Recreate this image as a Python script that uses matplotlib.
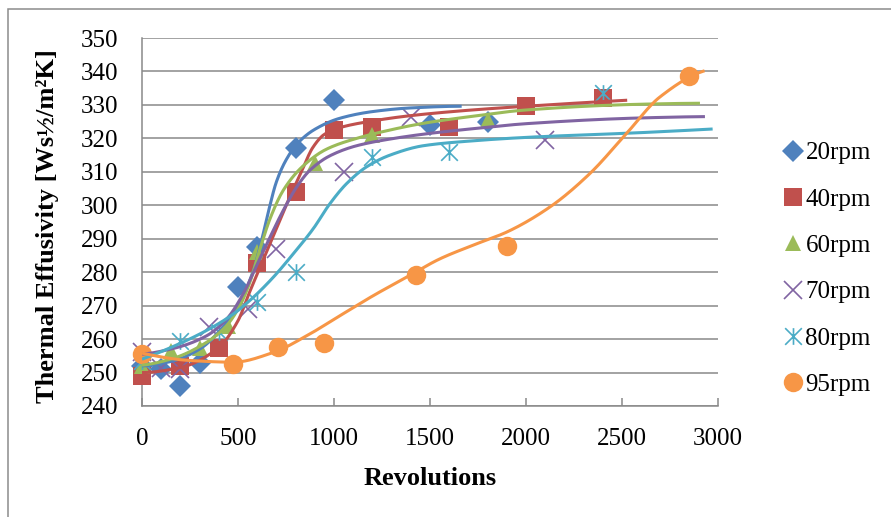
import numpy as np
import matplotlib
matplotlib.use("Agg")
import matplotlib.pyplot as plt
from matplotlib.path import Path
from matplotlib.patches import Rectangle
from matplotlib.lines import Line2D

plt.rcParams['font.family'] = ['Liberation Serif', 'DejaVu Serif']

# ---- measured points (revolutions, thermal effusivity) ----
labels = ["20rpm", "40rpm", "60rpm", "70rpm", "80rpm", "95rpm"]

rev_20 = [0, 100, 200, 300, 500, 600, 800, 1000, 1500, 1800]
eff_20 = [252, 251, 246, 253, 275.5, 287.5, 317, 331.5, 324, 325]

rev_40 = [0, 200, 400, 600, 800, 1000, 1200, 1600, 2000, 2400]
eff_40 = [249, 252, 257.2, 282.6, 304, 322.5, 323.5, 323.3, 329.6, 332.2]

rev_60 = [0, 150, 300, 450, 600, 900, 1200, 1800]
eff_60 = [252, 256.5, 257.2, 264, 286, 312.5, 321, 325.5]

rev_70 = [0, 100, 200, 350, 550, 700, 1050, 1400, 2100]
eff_70 = [256, 251.5, 251, 263.5, 269, 287, 310, 326.5, 319.5]

rev_80 = [0, 200, 400, 600, 800, 1200, 1600, 2400]
eff_80 = [253.5, 259.5, 262, 271, 280, 314.5, 316, 333.5]

rev_95 = [0, 475, 710, 950, 1425, 1900, 2850]
eff_95 = [255.5, 252.7, 257.7, 258.8, 279.2, 287.8, 338.6]

# ---- trend curves (knots of each fitted curve) ----
fit_rev_20 = [0, 150, 300, 420, 510, 580, 625, 660, 700, 750, 810, 900, 1030, 1200, 1400, 1665]
fit_eff_20 = [252, 253.3, 257, 263.5, 271, 280.5, 290, 298.5, 307, 313.5, 318.5, 322.7, 326, 328, 329.1, 329.6]

fit_rev_40 = [0, 200, 400, 500, 560, 630, 700, 770, 830, 890, 950, 1030, 1200, 1400, 1700, 2000, 2527]
fit_eff_40 = [250, 251.5, 257.5, 265.5, 274, 283.5, 293, 302.5, 310, 317.3, 321.2, 323.2, 325.2, 326.8, 328.4, 329.6, 331.4]

fit_rev_60 = [0, 160, 330, 440, 510, 562, 615, 667, 736, 840, 962, 1118, 1292, 1465, 1708, 2003, 2594, 2906]
fit_eff_60 = [252.2, 254.2, 258.8, 264, 270, 277, 287, 296, 304.5, 311.8, 316.8, 320, 322.5, 324.5, 326.5, 328.5, 330.2, 330.5]

fit_rev_70 = [0, 170, 337, 441, 527, 597, 667, 736, 806, 875, 979, 1118, 1292, 1500, 1708, 2003, 2594, 2932]
fit_eff_70 = [255.5, 257.3, 261, 266, 273.5, 282, 290.5, 298.5, 305.5, 310.5, 314.8, 317.8, 319.8, 321.5, 322.8, 324.4, 326.1, 326.5]

fit_rev_80 = [0, 163, 337, 476, 580, 684, 788, 892, 979, 1066, 1170, 1292, 1465, 1708, 2003, 2594, 2972]
fit_eff_80 = [254, 257.8, 262.6, 267.5, 272.5, 278.5, 285.5, 293, 300.5, 306.5, 311.5, 315, 317.8, 319.2, 320.3, 321.7, 322.8]

fit_rev_95 = [0, 250, 476, 684, 858, 1031, 1205, 1378, 1552, 1730, 1900, 2125, 2333, 2524, 2698, 2930]
fit_eff_95 = [255.8, 253.6, 253.1, 256, 261, 267, 273, 278.5, 284, 288.2, 292, 299.5, 309.5, 321.5, 332.4, 340.2]

x_ticks = [0, 500, 1000, 1500, 2000, 2500, 3000]
y_ticks = list(range(240, 351, 10))


def pchip(x, y, xs):
    """Shape-preserving piecewise cubic through the knots."""
    x = np.asarray(x, float)
    y = np.asarray(y, float)
    h = np.diff(x)
    delta = np.diff(y) / h
    n = len(x)
    d = np.zeros(n)
    for k in range(1, n - 1):
        if delta[k - 1] * delta[k] > 0:
            w1 = 2 * h[k] + h[k - 1]
            w2 = h[k] + 2 * h[k - 1]
            d[k] = (w1 + w2) / (w1 / delta[k - 1] + w2 / delta[k])

    def end(h0, h1, d0, d1):
        s = ((2 * h0 + h1) * d0 - h0 * d1) / (h0 + h1)
        if np.sign(s) != np.sign(d0):
            s = 0.0
        elif np.sign(d0) != np.sign(d1) and abs(s) > abs(3 * d0):
            s = 3 * d0
        return s

    d[0] = end(h[0], h[1], delta[0], delta[1])
    d[-1] = end(h[-1], h[-2], delta[-1], delta[-2])
    idx = np.clip(np.searchsorted(x, xs) - 1, 0, n - 2)
    t = (xs - x[idx]) / h[idx]
    h00 = 2 * t**3 - 3 * t**2 + 1
    h10 = t**3 - 2 * t**2 + t
    h01 = -2 * t**3 + 3 * t**2
    h11 = t**3 - t**2
    return (h00 * y[idx] + h10 * h[idx] * d[idx]
            + h01 * y[idx + 1] + h11 * h[idx] * d[idx + 1])


# six-armed star: an X with a vertical bar
star = Path([(0, -1), (0, 1), (-1, -1), (1, 1), (-1, 1), (1, -1)],
            [Path.MOVETO, Path.LINETO, Path.MOVETO, Path.LINETO,
             Path.MOVETO, Path.LINETO])

colors = ["#4F81BD", "#C0504D", "#9BBB59", "#8064A2", "#4BACC6", "#F79646"]
markers = ["D", "s", "^", "x", star, "o"]
msizes = [10.8, 12.8, 11.5, 13, 12, 14]
mews = [0, 0, 0, 1.2, 1.2, 0]

points = [(rev_20, eff_20), (rev_40, eff_40), (rev_60, eff_60),
          (rev_70, eff_70), (rev_80, eff_80), (rev_95, eff_95)]
fits = [(fit_rev_20, fit_eff_20), (fit_rev_40, fit_eff_40), (fit_rev_60, fit_eff_60),
        (fit_rev_70, fit_eff_70), (fit_rev_80, fit_eff_80), (fit_rev_95, fit_eff_95)]

W, H = 891, 517
fig = plt.figure(figsize=(W / 100, H / 100), dpi=100)
fig.patch.set_facecolor("white")

# outer chart frame
fig.add_artist(Rectangle((8 / W, -0.1), 1.2, 1 - 9 / H + 0.1, transform=fig.transFigure,
                         fill=False, edgecolor="#8C8C8C", lw=1.1))

ax = fig.add_axes([142 / W, 1 - 406 / H, 576 / W, 368 / H])
grid_col = "#898989"

handles = []
for (px, py), c, m, ms, mw, lab in zip(points, colors, markers, msizes, mews, labels):
    line_marker = m in ("x",) or m is star
    ax.plot(px, py, linestyle="none", marker=m, ms=ms, mew=mw if line_marker else 0,
            color=c, mec=c, zorder=3, clip_on=False)
    handles.append(Line2D([], [], linestyle="none", marker=m, ms=ms,
                          mew=mw if line_marker else 0, color=c, mec=c, label=lab))

for (fx, fy), c in zip(fits, colors):
    xs = np.linspace(fx[0], fx[-1], 400)
    ax.plot(xs, pchip(fx, fy, xs), color=c, lw=2.2, zorder=4, solid_capstyle="butt")

ax.set_xlim(0, 3000)
ax.set_ylim(240, 350)
ax.set_xticks(x_ticks)
ax.set_yticks(y_ticks)
ax.yaxis.grid(True, color=grid_col, lw=1.1)
ax.set_axisbelow(True)
for s in ("top", "right"):
    ax.spines[s].set_visible(False)
for s in ("left", "bottom"):
    ax.spines[s].set_color(grid_col)
    ax.spines[s].set_linewidth(1.1)
ax.tick_params(axis="x", direction="in", length=6, width=1.1, color=grid_col,
               pad=16, labelsize=18)
ax.tick_params(axis="y", length=0, pad=17, labelsize=18)

fig.text(430 / W, 1 - 485 / H, "Revolutions", ha="center", va="baseline",
         fontsize=19, fontweight="bold")
fig.text(47.5 / W, 1 - 226.5 / H, "Thermal Effusivity [Ws½/m²K]", ha="center",
         va="center", rotation=90, fontsize=19, fontweight="bold")

fig.legend(handles=handles, loc="upper left", bbox_to_anchor=(783 / W, 1 - 142 / H),
           frameon=False, fontsize=18, handlelength=0.8, handletextpad=0.1,
           borderpad=0, borderaxespad=0, labelspacing=0.95)

fig.savefig("out.png", dpi=100, facecolor="white")
